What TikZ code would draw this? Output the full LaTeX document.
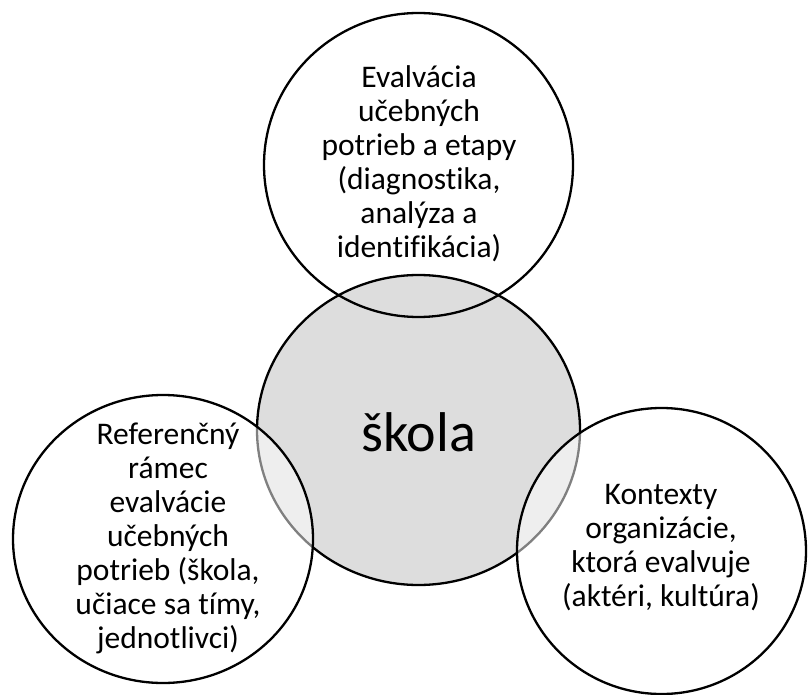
\documentclass[tikz,border=0pt]{standalone}
\usepackage{fontspec}
\setmainfont{Carlito}[Ligatures=NoCommon]
\usetikzlibrary{shapes.geometric}
\definecolor{coregray}{HTML}{DDDDDD}
\tikzset{
  ring/.style={ellipse, draw=black, line width=2.3pt, inner sep=0pt},
  label/.style={align=center, font=\fontsize{31.5}{34}\selectfont, text=black},
}
\begin{document}
\begin{tikzpicture}[x=1pt,y=-1pt]
  \useasboundingbox (0,0) rectangle (808,695);
  % central circle
  \node[ring, fill=coregray, minimum width=323pt, minimum height=310pt] (core) at (418.5,430) {};
  \node[font=\fontsize{56}{60}\selectfont] (coretext) at (418.5,432) {škola};
  % upper circle, outline only so the core shows through
  \node[ring, minimum width=309pt, minimum height=304pt] (top) at (418.5,165) {};
  \node[label] (toptext) at (419,164) {Evalvácia\\učebných\\potrieb a etapy\\(diagnostika,\\analýza a\\identifikácia)};
  % lower circles, half-transparent white
  \node[ring, fill=white, fill opacity=0.5, minimum width=300pt, minimum height=288pt] (left) at (163,539) {};
  \node[label] (lefttext) at (168,538) {Referenčný\\rámec\\evalvácie\\učebných\\potrieb (škola,\\učiace sa tímy,\\jednotlivci)};
  \node[ring, fill=white, fill opacity=0.5, minimum width=289pt, minimum height=286pt] (right) at (661.5,551) {};
  \node[label] (righttext) at (661,548) {Kontexty\\organizácie,\\ktorá evalvuje\\(aktéri, kultúra)};
\end{tikzpicture}
\end{document}
